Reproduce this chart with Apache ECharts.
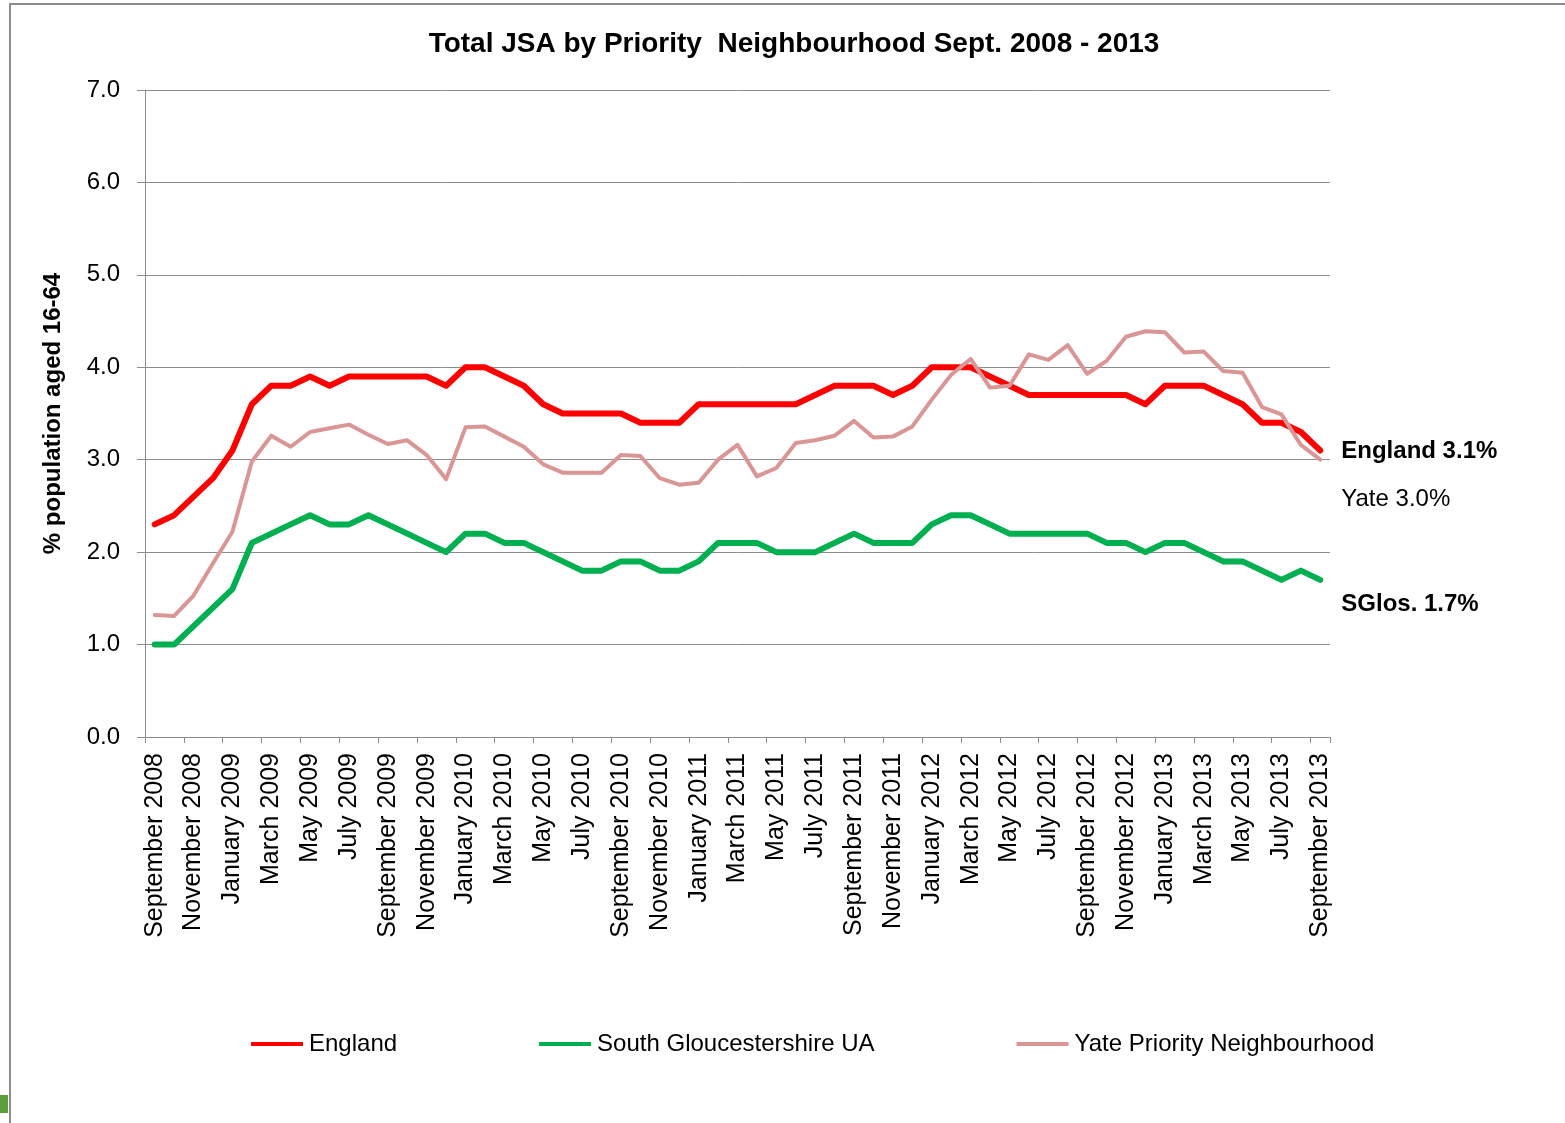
<!DOCTYPE html>
<html>
<head>
<meta charset="utf-8">
<title>Total JSA by Priority Neighbourhood</title>
<script src="https://cdn.jsdelivr.net/npm/echarts@6/dist/echarts.min.js"></script>
<style>
  html, body { margin: 0; padding: 0; background: #ffffff; }
  #chart { width: 1565px; height: 1123px; }
</style>
</head>
<body>
<div id="chart"></div>
<script>
// Monthly claimant-count (JSA) rates, % of population aged 16-64
const months = [
  'September 2008','October 2008','November 2008','December 2008',
  'January 2009','February 2009','March 2009','April 2009','May 2009','June 2009',
  'July 2009','August 2009','September 2009','October 2009','November 2009','December 2009',
  'January 2010','February 2010','March 2010','April 2010','May 2010','June 2010',
  'July 2010','August 2010','September 2010','October 2010','November 2010','December 2010',
  'January 2011','February 2011','March 2011','April 2011','May 2011','June 2011',
  'July 2011','August 2011','September 2011','October 2011','November 2011','December 2011',
  'January 2012','February 2012','March 2012','April 2012','May 2012','June 2012',
  'July 2012','August 2012','September 2012','October 2012','November 2012','December 2012',
  'January 2013','February 2013','March 2013','April 2013','May 2013','June 2013',
  'July 2013','August 2013','September 2013'
];

const england = [
  2.3, 2.4, 2.6, 2.8, 3.1, 3.6, 3.8, 3.8, 3.9, 3.8,
  3.9, 3.9, 3.9, 3.9, 3.9, 3.8, 4.0, 4.0, 3.9, 3.8,
  3.6, 3.5, 3.5, 3.5, 3.5, 3.4, 3.4, 3.4, 3.6, 3.6,
  3.6, 3.6, 3.6, 3.6, 3.7, 3.8, 3.8, 3.8, 3.7, 3.8,
  4.0, 4.0, 4.0, 3.9, 3.8, 3.7, 3.7, 3.7, 3.7, 3.7,
  3.7, 3.6, 3.8, 3.8, 3.8, 3.7, 3.6, 3.4, 3.4, 3.3,
  3.1
];

const southGlos = [
  1.0, 1.0, 1.2, 1.4, 1.6, 2.1, 2.2, 2.3, 2.4, 2.3,
  2.3, 2.4, 2.3, 2.2, 2.1, 2.0, 2.2, 2.2, 2.1, 2.1,
  2.0, 1.9, 1.8, 1.8, 1.9, 1.9, 1.8, 1.8, 1.9, 2.1,
  2.1, 2.1, 2.0, 2.0, 2.0, 2.1, 2.2, 2.1, 2.1, 2.1,
  2.3, 2.4, 2.4, 2.3, 2.2, 2.2, 2.2, 2.2, 2.2, 2.1,
  2.1, 2.0, 2.1, 2.1, 2.0, 1.9, 1.9, 1.8, 1.7, 1.8,
  1.7
];

const yate = [
  1.32, 1.31, 1.53, 1.88, 2.22, 2.98, 3.26, 3.14, 3.30, 3.34,
  3.38, 3.27, 3.17, 3.21, 3.05, 2.79, 3.35, 3.36, 3.25, 3.14,
  2.95, 2.86, 2.86, 2.86, 3.05, 3.04, 2.80, 2.73, 2.75, 3.00,
  3.16, 2.82, 2.91, 3.18, 3.21, 3.26, 3.42, 3.24, 3.25, 3.36,
  3.65, 3.92, 4.09, 3.78, 3.80, 4.14, 4.08, 4.24, 3.93, 4.07,
  4.33, 4.39, 4.38, 4.16, 4.17, 3.96, 3.94, 3.57, 3.49, 3.16,
  3.0
];

const yTicks = { min: 0, max: 7, interval: 1 };

const FONT = '"Liberation Sans", Arial, sans-serif';
const GRID_GREY = '#8c8c8c';

const chart = echarts.init(document.getElementById('chart'), null, { renderer: 'canvas' });

function endLabel(prefix, bold, dy) {
  return {
    show: true,
    distance: 21,
    offset: [0, dy],
    fontFamily: FONT,
    fontSize: 24,
    fontWeight: bold ? 'bold' : 'normal',
    color: '#000000',
    formatter: p => prefix + ' ' + Number(p.value).toFixed(1) + '%'
  };
}

chart.setOption({
  backgroundColor: '#ffffff',
  animation: false,
  title: {
    text: 'Total JSA by Priority  Neighbourhood Sept. 2008 - 2013',
    left: 794,
    top: 30,
    padding: 0,
    textAlign: 'center',
    textStyle: { fontFamily: FONT, fontSize: 28, fontWeight: 'bold', color: '#000000' }
  },
  legend: {
    left: 246,
    top: 1027,
    icon: 'rect',
    itemWidth: 52,
    itemHeight: 4,
    itemGap: 142,
    textStyle: { fontFamily: FONT, fontSize: 24, color: '#000000', padding: [0, 0, 0, 1] },
    data: ['England', 'South Gloucestershire UA', 'Yate Priority Neighbourhood']
  },
  grid: { left: 145, right: 235, top: 90, bottom: 386, containLabel: false },
  xAxis: {
    type: 'category',
    data: months,
    boundaryGap: true,
    axisLine: { show: true, lineStyle: { color: GRID_GREY, width: 1 } },
    axisTick: { show: true, interval: 1, length: 6, lineStyle: { color: GRID_GREY } },
    axisLabel: {
      interval: 1,
      rotate: 90,
      margin: 16,
      fontFamily: FONT,
      fontSize: 25,
      color: '#000000'
    },
    splitLine: { show: false }
  },
  yAxis: {
    type: 'value',
    min: yTicks.min,
    max: yTicks.max,
    interval: yTicks.interval,
    name: '% population aged 16-64',
    nameLocation: 'middle',
    nameGap: 80,
    nameRotate: 90,
    nameTextStyle: { fontFamily: FONT, fontSize: 24, fontWeight: 'bold', color: '#000000' },
    axisLine: { show: true, lineStyle: { color: GRID_GREY, width: 1 } },
    axisTick: { show: true, length: 8, lineStyle: { color: GRID_GREY } },
    axisLabel: {
      margin: 25,
      fontFamily: FONT,
      fontSize: 24,
      color: '#000000',
      formatter: v => v.toFixed(1)
    },
    splitLine: { show: true, lineStyle: { color: GRID_GREY, width: 1 } }
  },
  series: [
    {
      name: 'England',
      type: 'line',
      data: england,
      color: '#ff0000',
      showSymbol: false,
      symbol: 'none',
      lineStyle: { width: 6, color: '#ff0000', join: 'round', cap: 'round' },
      endLabel: endLabel('England', true, 1),
      z: 4
    },
    {
      name: 'South Gloucestershire UA',
      type: 'line',
      data: southGlos,
      color: '#00b050',
      showSymbol: false,
      symbol: 'none',
      lineStyle: { width: 6, color: '#00b050', join: 'round', cap: 'round' },
      endLabel: endLabel('SGlos.', true, 25),
      z: 3
    },
    {
      name: 'Yate Priority Neighbourhood',
      type: 'line',
      data: yate,
      color: '#d99694',
      showSymbol: false,
      symbol: 'none',
      lineStyle: { width: 4, color: '#d99694', join: 'round', cap: 'round' },
      endLabel: endLabel('Yate', false, 40),
      z: 5
    }
  ],
  graphic: [
    {
      type: 'rect',
      silent: true,
      shape: { x: 10, y: 4, width: 1620, height: 1200 },
      style: { fill: 'none', stroke: '#8c8c8c', lineWidth: 2 }
    },
    {
      type: 'rect',
      silent: true,
      shape: { x: 0, y: 1095, width: 8, height: 18 },
      style: { fill: '#5b9e3c' }
    }
  ]
});
</script>
</body>
</html>
